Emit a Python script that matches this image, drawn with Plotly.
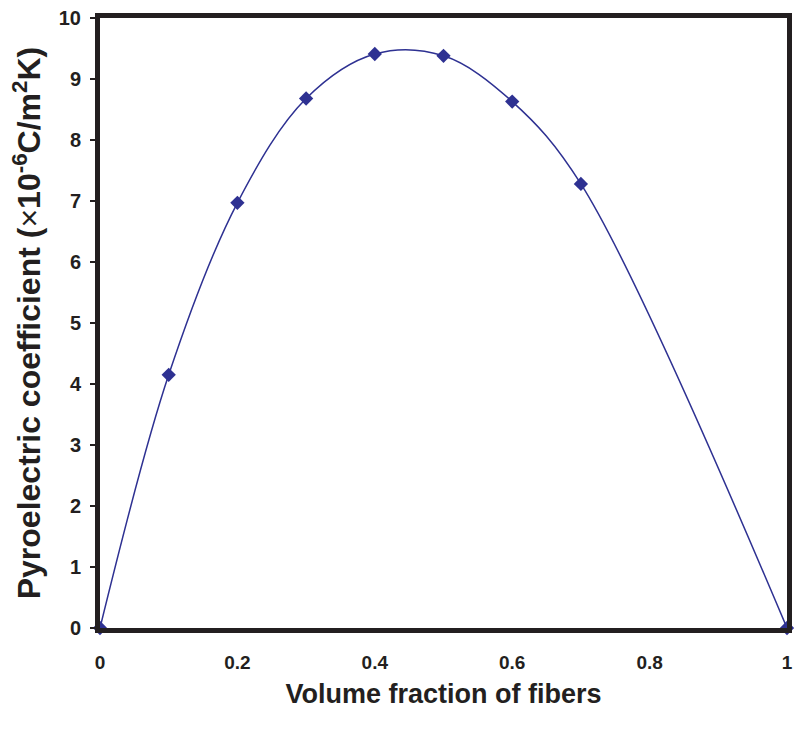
import plotly.graph_objects as go

volume_fraction = [0, 0.1, 0.2, 0.3, 0.4, 0.5, 0.6, 0.7, 1.0]
pyro_coeff = [0, 4.15, 6.97, 8.68, 9.41, 9.38, 8.63, 7.28, 0]
x_ticks = [0, 0.2, 0.4, 0.6, 0.8, 1]
x_tick_labels = ["0", "0.2", "0.4", "0.6", "0.8", "1"]
y_ticks = list(range(0, 11))

color = "#2E3192"
ink = "#231F20"

fig = go.Figure()
fig.add_trace(go.Scatter(
    x=volume_fraction, y=pyro_coeff, mode="lines+markers",
    line=dict(color=color, width=1.5, shape="spline", smoothing=1.0),
    marker=dict(symbol="diamond", size=11, color=color),
    cliponaxis=False, showlegend=False,
))

fig.update_layout(
    width=800, height=731,
    margin=dict(l=100, r=7, t=16, b=103),
    plot_bgcolor="white", paper_bgcolor="white",
    font=dict(family="Liberation Sans, Arial, sans-serif", color=ink),
)
fig.update_xaxes(
    range=[0, 1], tickvals=x_ticks, ticktext=x_tick_labels,
    showgrid=False, zeroline=False, showline=True, mirror=True,
    linecolor=ink, linewidth=5, ticks="", ticklabelstandoff=13,
    tickfont=dict(size=19, color=ink, weight="bold"),
    title=dict(text="<b>Volume fraction of fibers</b>", standoff=14,
               font=dict(size=27, color=ink)),
)
fig.update_yaxes(
    range=[0, 10], tickvals=y_ticks,
    showgrid=False, zeroline=False, showline=True, mirror=True,
    linecolor=ink, linewidth=5, ticks="outside", ticklen=5, tickwidth=1.5,
    tickcolor=ink, ticklabelstandoff=5,
    tickfont=dict(size=20, color=ink, weight="bold"),
    title=dict(text="<b>Pyroelectric coefficient (</b>×<b>10<sup>-6</sup>C/m<sup>2</sup>K)</b>", standoff=10,
               font=dict(size=32, color=ink)),
)

fig.write_html("out.html")
